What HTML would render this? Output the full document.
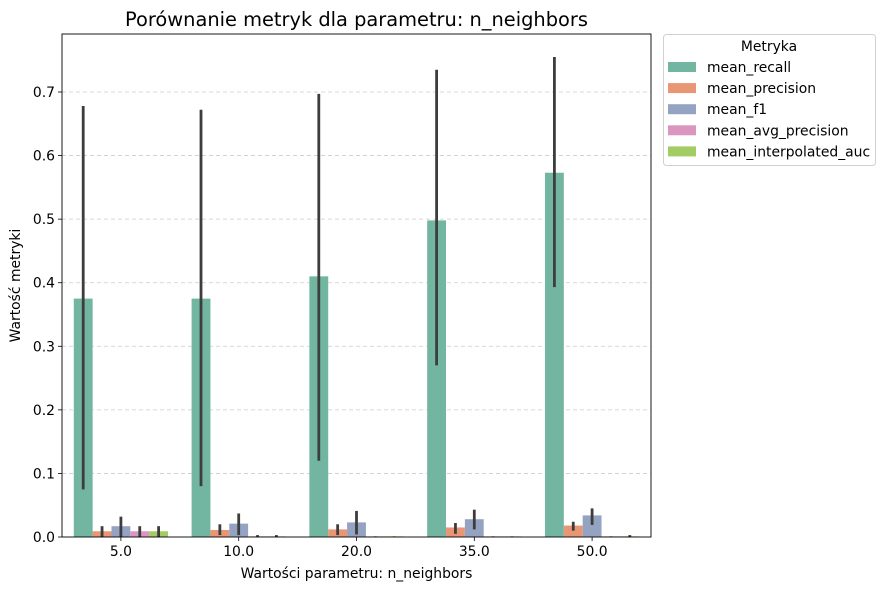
<!DOCTYPE html>
<html><head><meta charset="utf-8"><style>
body{margin:0;background:#fff;}
svg{display:block;font-family:"DejaVu Sans","Liberation Sans",sans-serif;}
</style></head><body>
<svg id="chart" width="886" height="590"></svg>
<script>
const categories = ["5.0","10.0","20.0","35.0","50.0"];
const seriesNames = ["mean_recall","mean_precision","mean_f1","mean_avg_precision","mean_interpolated_auc"];
const recall = [0.375,0.375,0.41,0.498,0.573];
const recallLo = [0.075,0.08,0.12,0.27,0.393];
const recallHi = [0.678,0.672,0.697,0.735,0.755];
const precision = [0.009,0.011,0.012,0.015,0.018];
const precisionLo = [0.0,0.003,0.003,0.005,0.01];
const precisionHi = [0.017,0.02,0.02,0.022,0.024];
const f1 = [0.017,0.021,0.023,0.028,0.034];
const f1Lo = [0.0,0.003,0.004,0.012,0.019];
const f1Hi = [0.032,0.037,0.041,0.043,0.045];
const avgPrec = [0.009,0.001,0.001,0.001,0.001];
const avgPrecLo = [0.0,0.0,0.0,0.0,0.0];
const avgPrecHi = [0.017,0.003,0.001,0.001,0.001];
const interpAuc = [0.009,0.001,0.001,0.001,0.001];
const interpAucLo = [0.0,0.0,0.0,0.0,0.0];
const interpAucHi = [0.017,0.003,0.001,0.001,0.003];
const yTicks = [0.0,0.1,0.2,0.3,0.4,0.5,0.6,0.7];
const colors = ["#72b6a1","#e99675","#95a3c3","#db96c0","#a4cc64"];

const svg = document.getElementById('chart');
const NS = 'http://www.w3.org/2000/svg';
function mk(tag, attrs, parent){const e=document.createElementNS(NS,tag);for(const k in attrs)e.setAttribute(k,attrs[k]);(parent||svg).appendChild(e);return e;}
const L=62,R=651,T=34,B=537;
const FS=13.9;
const yScale=v=>B-v*(B-92)/0.7;
const gw=(R-L)/categories.length;
const xCenter=i=>L+gw*(i+0.5);
const bw=gw*0.8/5;

yTicks.forEach(t=>{
  const y=yScale(t);
  if(t>0){const g=mk('line',{x1:L,x2:R,y1:y,y2:y,stroke:'#cccccc','stroke-dasharray':'4,3','stroke-width':0.8});
  
  }
  mk('line',{x1:L-4,x2:L,y1:y,y2:y,stroke:'#000','stroke-width':0.8});
  const tx=mk('text',{x:L-7,y:y+5,'text-anchor':'end','font-size':FS});
  tx.textContent=t.toFixed(1);
  
  
});

const vals=[recall,precision,f1,avgPrec,interpAuc];
const los=[recallLo,precisionLo,f1Lo,avgPrecLo,interpAucLo];
const his=[recallHi,precisionHi,f1Hi,avgPrecHi,interpAucHi];
categories.forEach((c,i)=>{
  vals.forEach((s,j)=>{
    const x=xCenter(i)-gw*0.4+j*bw;
    const r=mk('rect',{x:x,y:yScale(s[i]),width:bw,height:B-yScale(s[i]),fill:colors[j]});
    
    
    const e=mk('line',{x1:x+bw/2,x2:x+bw/2,y1:yScale(his[j][i]),y2:yScale(los[j][i]),stroke:'#3d3d3d','stroke-width':2.8});
    
    
  });
  mk('line',{x1:xCenter(i),x2:xCenter(i),y1:B,y2:B+4,stroke:'#000','stroke-width':0.8});
  const tx=mk('text',{x:xCenter(i),y:B+19,'text-anchor':'middle','font-size':FS});
  tx.textContent=c;
  
  
});
const frame=mk('rect',{x:L,y:T,width:R-L,height:B-T,fill:'none',stroke:'#000','stroke-width':0.9});



const title=mk('text',{x:(L+R)/2,y:26,'text-anchor':'middle','font-size':19.4});
title.textContent='Porównanie metryk dla parametru: n_neighbors';


const xl=mk('text',{x:(L+R)/2,y:578,'text-anchor':'middle','font-size':FS});
xl.textContent='Wartości parametru: n_neighbors';


const yl=mk('text',{x:0,y:0,'text-anchor':'middle','font-size':FS,transform:'translate(20,'+((T+B)/2)+') rotate(-90)'});
yl.textContent='Wartość metryki';



const lg=mk('g',{});


mk('rect',{x:663.5,y:34.5,width:212,height:131,rx:3,fill:'#fff',stroke:'#d0d0d0'},lg);
const lt=mk('text',{x:769,y:51,'text-anchor':'middle','font-size':FS},lg);
lt.textContent='Metryka';
seriesNames.forEach((n,j)=>{
  const y=67+j*21.1;
  const p=mk('rect',{x:668,y:y-5,width:28,height:10,fill:colors[j]},lg);
  
  
  const t=mk('text',{x:707,y:y+5,'font-size':FS},lg);
  t.textContent=n;
  
  
});
</script>
</body></html>
